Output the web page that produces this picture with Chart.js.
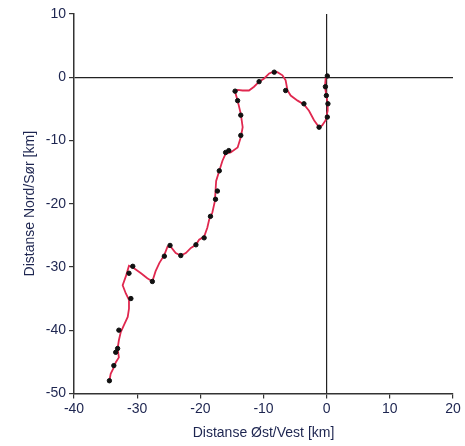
<!DOCTYPE html>
<html lang="no">
<head>
<meta charset="UTF-8">
<title>Drift</title>
<script src="https://cdn.jsdelivr.net/npm/chart.js"></script>
<style>
  html, body { margin: 0; padding: 0; background: #fff; }
  #wrap { width: 465px; height: 446px; }
</style>
</head>
<body>
<div id="wrap"><canvas id="track"></canvas></div>
<script>
// track (km), from origin back to start
const trackX = [0.1, -0.16, -0.27, -0.05, 0.16, 0.16, -0.16, -0.7, -1.2, -2.0, -2.8, -3.6, -4.6, -5.7, -6.2, -6.5, -7.0, -7.8, -8.6, -9.1, -9.9, -10.7, -11.5, -12.3, -13.3, -14.1, -14.5, -14.1, -13.6, -13.3, -13.6, -14.1, -15.2, -16.0, -16.5, -17.0, -17.5, -17.6, -17.7, -18.1, -18.6, -18.9, -19.4, -20.2, -20.7, -21.5, -22.3, -23.1, -23.9, -24.7, -25.2, -25.7, -26.5, -27.1, -27.6, -28.4, -29.4, -30.5, -31.3, -31.5, -31.8, -32.3, -31.8, -31.3, -31.3, -31.5, -32.1, -32.6, -32.9, -33.1, -32.9, -33.4, -33.7, -34.2, -34.4];
const trackY = [0.2, -0.16, -1.5, -2.9, -4.2, -5.3, -6.8, -7.6, -7.9, -6.8, -5.3, -4.3, -3.7, -2.9, -2.1, -0.5, 0.3, 0.8, 0.8, 0.6, -0.2, -0.7, -1.5, -2.1, -2.1, -2.0, -2.3, -3.7, -5.8, -7.9, -9.5, -11.1, -11.9, -12.1, -13.2, -14.8, -16.4, -18.0, -19.6, -21.4, -22.5, -23.8, -25.2, -25.7, -26.5, -27.0, -27.8, -28.2, -27.8, -26.8, -26.8, -28.1, -29.4, -30.7, -32.3, -31.8, -31.0, -30.2, -29.8, -30.5, -31.5, -32.9, -34.2, -35.2, -36.6, -37.9, -39.2, -40.3, -41.6, -42.9, -44.3, -45.1, -45.9, -46.9, -48.0];

// position fixes (black dots)
const fixX = [0.1, -0.2, -0.05, 0.2, 0.1, -1.2, -3.6, -6.5, -8.3, -10.7, -14.5, -14.1, -13.6, -13.6, -15.5, -16.0, -17.0, -17.3, -17.6, -18.4, -19.4, -20.7, -23.1, -24.8, -25.7, -27.6, -30.7, -31.3, -31.0, -32.9, -33.1, -33.4, -33.7, -34.4];
const fixY = [0.2, -1.5, -2.9, -4.2, -6.3, -7.9, -4.2, -2.1, 0.8, -0.7, -2.2, -3.7, -6.0, -9.2, -11.6, -11.9, -14.8, -18.0, -19.3, -22.0, -25.4, -26.5, -28.2, -26.6, -28.3, -32.3, -29.9, -31.0, -35.0, -40.0, -42.9, -43.5, -45.6, -48.0];

const xTicks = [-40, -30, -20, -10, 0, 10, 20];
const yTicks = [10, 0, -10, -20, -30, -40, -50];

const xTitle = 'Distanse Øst/Vest [km]';
const yTitle = 'Distanse Nord/Sør [km]';

const toPts = (xs, ys) => xs.map((x, i) => ({ x: x, y: ys[i] }));

const labelColor = '#1d2550';
const axisColor = '#333';
const font = { family: 'Liberation Sans', size: 14 };
const zeroLine = c => c.tick && c.tick.value === 0 ? '#222' : 'rgba(0,0,0,0)';

new Chart(document.getElementById('track'), {
  type: 'scatter',
  data: {
    datasets: [{
      data: toPts(trackX, trackY),
      showLine: true,
      borderColor: '#e0284f',
      borderWidth: 1.8,
      pointRadius: 0,
      order: 2
    }, {
      data: toPts(fixX, fixY),
      backgroundColor: '#111',
      borderColor: '#111',
      pointRadius: 2.2,
      order: 1
    }]
  },
  options: {
    responsive: true,
    maintainAspectRatio: false,
    animation: false,
    layout: { padding: { top: 14, right: 12, left: 18, bottom: 0 } },
    plugins: { legend: { display: false }, tooltip: { enabled: false } },
    scales: {
      x: {
        min: -40, max: 20,
        afterBuildTicks: a => { a.ticks = xTicks.map(v => ({ value: v })); },
        grid: { color: zeroLine, lineWidth: 1.2, tickColor: axisColor, tickLength: 5 },
        border: { color: axisColor, width: 1.5 },
        ticks: { color: labelColor, font: font, maxRotation: 0, padding: 2 },
        title: { display: true, text: xTitle, color: labelColor, font: font, padding: { top: 6 } }
      },
      y: {
        min: -50, max: 10,
        afterBuildTicks: a => { a.ticks = yTicks.map(v => ({ value: v })); },
        grid: { color: zeroLine, lineWidth: 1.2, tickColor: axisColor, tickLength: 5 },
        border: { color: axisColor, width: 1.5 },
        ticks: { color: labelColor, font: font, padding: 3 },
        title: { display: true, text: yTitle, color: labelColor, font: font, padding: { bottom: 4 } }
      }
    }
  }
});
</script>
</body>
</html>
